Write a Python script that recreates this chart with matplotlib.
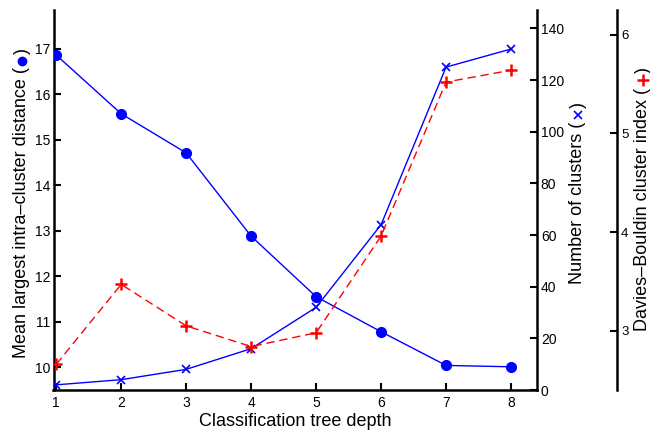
import matplotlib
matplotlib.use('Agg')
import matplotlib.pyplot as plt
from matplotlib.lines import Line2D
from matplotlib.transforms import IdentityTransform

plt.rcParams['font.family'] = ['Liberation Sans', 'DejaVu Sans']

# ---- data ----
depth = [1, 2, 3, 4, 5, 6, 7, 8]
intra_dist = [16.86, 15.57, 14.71, 12.88, 11.55, 10.78, 10.04, 10.01]
n_clusters = [2, 4, 8, 16, 32, 64, 125, 132]
db_index = [2.66, 3.47, 3.05, 2.84, 2.98, 3.96, 5.52, 5.64]

left_ticks = [10, 11, 12, 13, 14, 15, 16, 17]
cluster_ticks = [0, 20, 40, 60, 80, 100, 120, 140]
db_ticks = [3, 4, 5, 6]

W, H = 650, 433
fig = plt.figure(figsize=(W / 100, H / 100), dpi=100)
ax = fig.add_axes([53.5 / W, 1 - 390 / H, (536.7 - 53.5) / W, (390 - 10) / H])
ax2 = ax.twinx()
ax3 = ax.twinx()

BLUE = (0, 0, 1)
RED = (1, 0, 0)

ax.plot(depth, intra_dist, '-o', color=BLUE, lw=1.0, ms=7, zorder=3)
ax2.plot(depth, n_clusters, '-x', color=BLUE, lw=1.0, ms=6, mew=1.2)
ax3.plot(depth, db_index, '--+', color=RED, lw=1.0, ms=9, mew=1.8,
         dashes=(6, 3.5))

ax.set_xlim(0.958, 8.395)
ax.set_ylim(9.50, 17.85)
ax2.set_ylim(0, 147.1)
ax3.set_ylim(2.40, 6.25)

ax.set_xticks(depth)
ax.set_yticks(left_ticks)
ax2.set_yticks(cluster_ticks)
ax3.set_yticks(db_ticks)

SPW = 1.8
for s in ['top', 'right']:
    ax.spines[s].set_visible(False)
for s in ['left', 'bottom']:
    ax.spines[s].set_linewidth(SPW)
for a in (ax2, ax3):
    for s in ['top', 'left', 'bottom']:
        a.spines[s].set_visible(False)
    a.spines['right'].set_linewidth(SPW)
ax3.spines['right'].set_position(('axes', (617 - 53.5) / (536.7 - 53.5)))

ax.tick_params(axis='both', direction='in', length=5, width=1.5,
               labelsize=10, pad=2.5, top=False, right=False)
ax.tick_params(axis='x', pad=4)
ax2.tick_params(axis='y', direction='in', length=5, width=1.5,
                labelsize=10, pad=3)
ax3.tick_params(axis='y', direction='in', length=5, width=1.5,
                labelsize=9.5, pad=3)

fig.text(295 / W, 1 - 421 / H, 'Classification tree depth', fontsize=13,
         ha='center', va='center')

renderer = fig.canvas.get_renderer()


def composite_label(xc, yc_img, before, marker, mcolor, msize, mew, fontsize,
                    mspace):
    yc = H - yc_img
    em = fontsize * 100 / 72.0
    xb = xc + 0.716 * em / 2          # baseline position (rotated text)
    kw = dict(rotation=90, fontsize=fontsize, rotation_mode='anchor',
              ha='left', va='baseline', transform=IdentityTransform())
    t1 = fig.text(0, 0, before, **kw)
    t2 = fig.text(0, 0, ')', **kw)
    l1 = t1.get_window_extent(renderer).height
    l2 = t2.get_window_extent(renderer).height
    total = l1 + mspace + l2
    y0 = yc - total / 2
    t1.set_position((xb, y0))
    t2.set_position((xb, y0 + l1 + mspace))
    xm = xb - 0.259 * em              # visual centre of the parentheses
    mk = Line2D([xm], [y0 + l1 + mspace / 2], marker=marker,
                color=mcolor, ms=msize, mew=mew, ls='none',
                transform=IdentityTransform())
    fig.add_artist(mk)


composite_label(20, 203, 'Mean largest intra–cluster distance (', 'o', BLUE,
                6, 1, 13, 13)
composite_label(576, 193, 'Number of clusters (', 'x', BLUE, 5.5, 1.2, 13, 13)
composite_label(641, 199, 'Davies–Bouldin cluster index (', '+', RED, 9, 1.8,
                13, 14)

fig.savefig('out.png', dpi=100)
